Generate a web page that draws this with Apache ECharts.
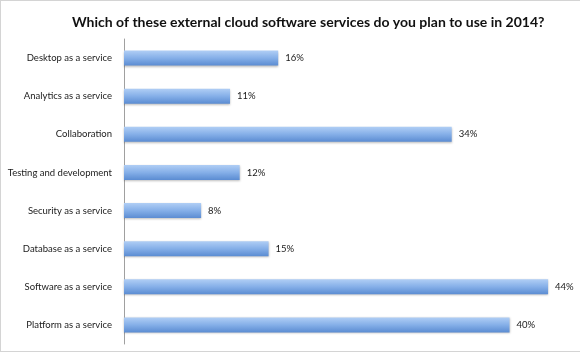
<!DOCTYPE html>
<html lang="en">
<head>
  <meta charset="UTF-8">
  <title>Cloud software services 2014</title>
  <style>
    html, body { margin: 0; padding: 0; background: #fff; }
    #main { width: 580px; height: 352px; box-sizing: border-box; border: 1px solid #d4d4d4; border-right: none; }
  </style>
</head>
<body>
  <script src="https://cdn.jsdelivr.net/npm/echarts@6/dist/echarts.min.js"></script>
  <div id="main"></div>
  <script type="text/javascript">
    // categories, top to bottom
    var categories = [
      'Desktop as a service',
      'Analytics as a service',
      'Collaboration',
      'Testing and development',
      'Security as a service',
      'Database as a service',
      'Software as a service',
      'Platform as a service'
    ];
    // percent of respondents
    var values = [16, 11, 34, 12, 8, 15, 44, 40];

    var myChart = echarts.init(document.getElementById('main'));

    var option = {
      animation: false,
      title: {
        text: 'Which of these external cloud software services do you plan to use in 2014?',
        left: 66,
        top: 9,
        textStyle: {
          fontFamily: 'Lato, sans-serif',
          fontSize: 14,
          fontWeight: 'bold',
          color: '#111'
        }
      },
      grid: {
        left: 123,
        top: 38,
        width: 453,
        height: 305,
        outerBoundsMode: 'none'
      },
      xAxis: {
        type: 'value',
        min: 0,
        max: 47,
        show: false
      },
      yAxis: {
        type: 'category',
        data: categories,
        inverse: true,
        axisLine: { lineStyle: { color: '#a0a0a0', width: 1 } },
        axisTick: { show: false },
        axisLabel: {
          margin: 12,
          fontFamily: 'Lato, sans-serif',
          fontSize: 9.5,
          color: '#1a1a1a'
        }
      },
      series: [{
        type: 'bar',
        data: values,
        barWidth: 15,
        itemStyle: {
          color: new echarts.graphic.LinearGradient(0, 0, 0, 1, [
            { offset: 0, color: '#b0cef5' },
            { offset: 0.5, color: '#85afe8' },
            { offset: 1, color: '#5b8cd2' }
          ]),
          shadowColor: 'rgba(0,0,0,0.25)',
          shadowBlur: 2,
          shadowOffsetY: 1
        },
        label: {
          show: true,
          position: 'right',
          distance: 7,
          formatter: '{c}%',
          fontFamily: 'Lato, sans-serif',
          fontSize: 9.5,
          color: '#1a1a1a'
        }
      }]
    };

    myChart.setOption(option);
  </script>
</body>
</html>
